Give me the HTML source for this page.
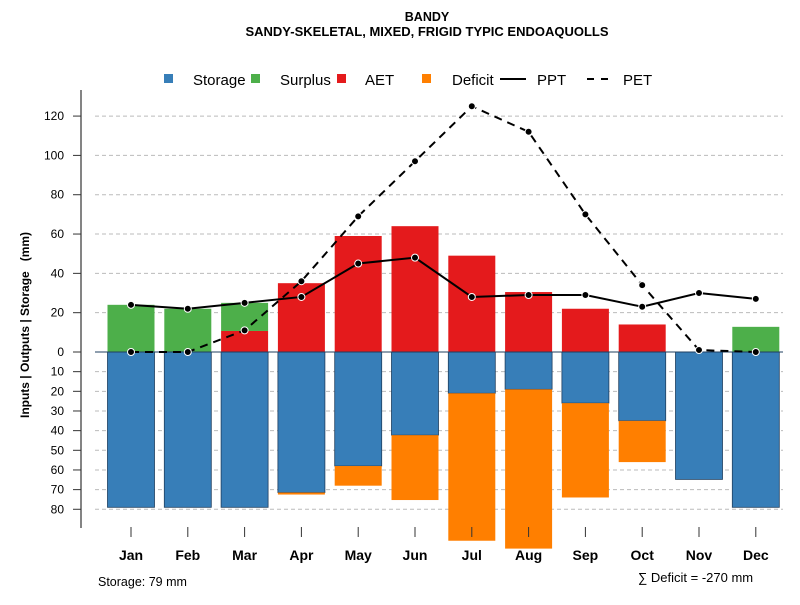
<!DOCTYPE html>
<html><head><meta charset="utf-8"><style>
body{margin:0;background:#fff;font-family:"Liberation Sans",sans-serif}
svg text{font-family:"Liberation Sans",sans-serif}
</style></head><body>
<svg id="c" width="800" height="600">
<text x="427" y="21" text-anchor="middle" font-size="12.5" font-weight="bold">BANDY</text>
<text x="427" y="36" text-anchor="middle" font-size="13" font-weight="bold">SANDY-SKELETAL, MIXED, FRIGID TYPIC ENDOAQUOLLS</text>
<g font-size="15">
<g><rect x="164" y="74" width="9" height="9" fill="#377EB8"/><text x="193" y="85">Storage</text></g>
<g><rect x="251" y="74" width="9" height="9" fill="#4DAF4A"/><text x="280" y="85">Surplus</text></g>
<g><rect x="337" y="74" width="9" height="9" fill="#E41A1C"/><text x="365" y="85">AET</text></g>
<g><rect x="422" y="74" width="9" height="9" fill="#FF7F00"/><text x="452" y="85">Deficit</text></g>
<g><line x1="500" y1="79" x2="526" y2="79" stroke="#000" stroke-width="2"/><text x="537" y="85">PPT</text></g>
<g><line x1="587" y1="79" x2="609" y2="79" stroke="#000" stroke-width="2" stroke-dasharray="7,7"/><text x="623" y="85">PET</text></g>
</g>
<text transform="translate(29,325) rotate(-90)" text-anchor="middle" font-size="12" font-weight="bold">Inputs | Outputs | Storage&#160;&#160;&#160;(mm)</text>
<text x="98" y="586" font-size="12.5">Storage: 79 mm</text>
<text x="638" y="582" font-size="13">∑ Deficit = -270 mm</text>
<g id="grid"></g><g id="bars"></g><g id="lines"></g><g id="axes"></g>
</svg>
<script>
const months=["Jan","Feb","Mar","Apr","May","Jun","Jul","Aug","Sep","Oct","Nov","Dec"];
const ppt=[24,22,25,28,45,48,28,29,29,23,30,27];
const pet=[0,0,11,36,69,97,125,112,70,34,1,0];
const aet=[0,0,10.7,35,59,64,49,30.5,22,14,0,0];
const surplus=[24,22,14.3,0,0,0,0,0,0,0,0,12.8];
const storage=[79,79,79,71.5,58,42.3,21,19,26,35,64.8,79];
const deficit=[0,0,0,1,10,33,75,81,48,21,0,0];
const posTicks=[0,20,40,60,80,100,120];
const negTicks=[10,20,30,40,50,60,70,80];
const NS="http://www.w3.org/2000/svg";
const y=v=>352-v*1.966;
const x=i=>131+i*56.8;
const bw=47;
function mk(p,t,a){const e=document.createElementNS(NS,t);for(const k in a)e.setAttribute(k,a[k]);document.getElementById(p).appendChild(e);return e;}
posTicks.forEach(v=>{const l=mk('grid','line',{x1:95,x2:783,y1:y(v),y2:y(v),stroke:'#bbb','stroke-dasharray':'4,3'});


const t=mk('axes','line',{x1:73,x2:81,y1:y(v),y2:y(v),stroke:'#333'});


const tx=mk('axes','text',{x:64,y:y(v)+4,'text-anchor':'end','font-size':12});tx.textContent=v;

});
negTicks.forEach(v=>{const l=mk('grid','line',{x1:95,x2:783,y1:y(-v),y2:y(-v),stroke:'#bbb','stroke-dasharray':'4,3'});


const t=mk('axes','line',{x1:73,x2:81,y1:y(-v),y2:y(-v),stroke:'#333'});


const tx=mk('axes','text',{x:64,y:y(-v)+4,'text-anchor':'end','font-size':12});tx.textContent=v;

});
months.forEach((m,i)=>{
 const cx=x(i),l=cx-bw/2;
 if(storage[i]>0){const r=mk('bars','rect',{x:l,y:y(0),width:bw,height:y(-storage[i])-y(0),fill:'#377EB8',stroke:'#1f3f5f','stroke-width':0.8});
 
 }
 if(deficit[i]>0){const r=mk('bars','rect',{x:l,y:y(-storage[i]),width:bw,height:y(-storage[i]-deficit[i])-y(-storage[i]),fill:'#FF7F00'});
 
 }
 if(aet[i]>0){const r=mk('bars','rect',{x:l,y:y(aet[i]),width:bw,height:y(0)-y(aet[i]),fill:'#E41A1C'});
 
 }
 if(surplus[i]>0){const r=mk('bars','rect',{x:l,y:y(aet[i]+surplus[i]),width:bw,height:y(aet[i])-y(aet[i]+surplus[i]),fill:'#4DAF4A'});
 
 }
 const t=mk('axes','line',{x1:cx,x2:cx,y1:527,y2:537,stroke:'#333'});
 
 
 const tx=mk('axes','text',{x:cx,y:560,'text-anchor':'middle','font-size':14,'font-weight':'bold'});tx.textContent=m;
 
 
});
const zl=mk('bars','line',{x1:95,x2:783,y1:y(0),y2:y(0),stroke:'#1f3f5f','stroke-width':1});


const ax=mk('axes','line',{x1:81,x2:81,y1:90,y2:528,stroke:'#333','stroke-width':1.2});


const pp=mk('lines','polyline',{points:ppt.map((v,i)=>x(i)+','+y(v)).join(' '),fill:'none',stroke:'#000','stroke-width':2});


const pe=mk('lines','polyline',{points:pet.map((v,i)=>x(i)+','+y(v)).join(' '),fill:'none',stroke:'#000','stroke-width':2,'stroke-dasharray':'8,6'});


ppt.forEach((v,i)=>{const c=mk('lines','circle',{cx:x(i),cy:y(v),r:3.5,fill:'#000',stroke:'#fff','stroke-width':1});

});
pet.forEach((v,i)=>{const c=mk('lines','circle',{cx:x(i),cy:y(v),r:3.5,fill:'#000',stroke:'#fff','stroke-width':1});

});
</script>
</body></html>
